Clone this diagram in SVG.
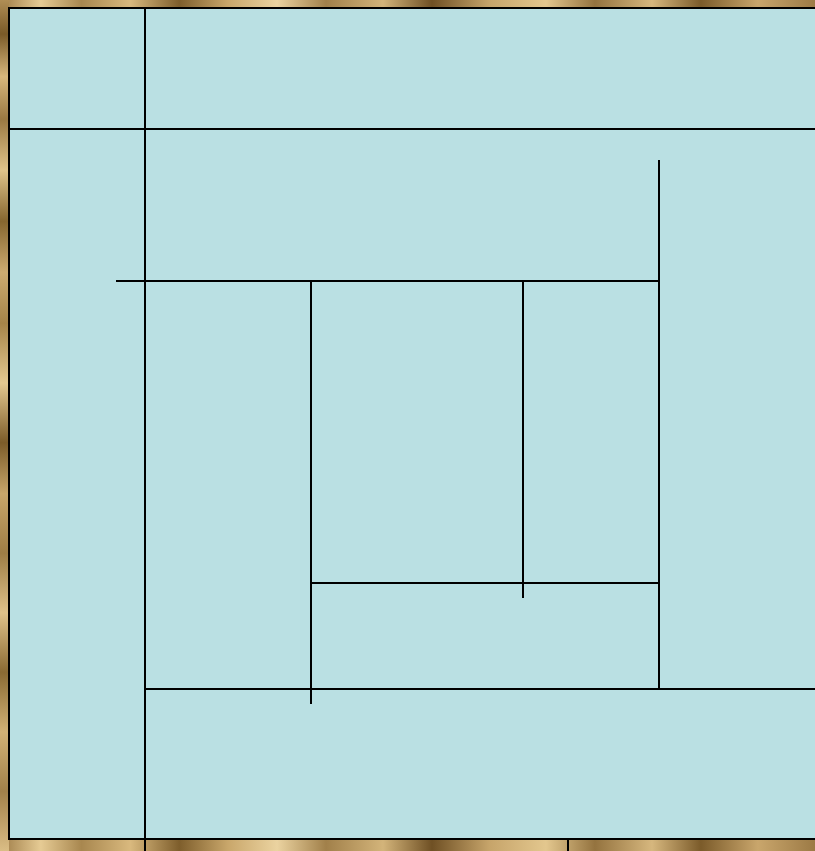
<svg xmlns="http://www.w3.org/2000/svg" width="815" height="851" viewBox="0 0 815 851">
  <defs>
    <linearGradient id="gH" x1="0" y1="0" x2="815" y2="0" gradientUnits="userSpaceOnUse" spreadMethod="repeat">
      <stop offset="0" stop-color="#9C7A45"/>
      <stop offset="0.05" stop-color="#E6CB94"/>
      <stop offset="0.1" stop-color="#A8874F"/>
      <stop offset="0.16" stop-color="#D9B97E"/>
      <stop offset="0.22" stop-color="#7E5E2C"/>
      <stop offset="0.28" stop-color="#C9A76B"/>
      <stop offset="0.34" stop-color="#EBD3A0"/>
      <stop offset="0.4" stop-color="#A1804A"/>
      <stop offset="0.47" stop-color="#D3B47A"/>
      <stop offset="0.53" stop-color="#6F5024"/>
      <stop offset="0.6" stop-color="#C6A46A"/>
      <stop offset="0.67" stop-color="#E3C78E"/>
      <stop offset="0.73" stop-color="#94733F"/>
      <stop offset="0.8" stop-color="#D6B77E"/>
      <stop offset="0.86" stop-color="#7B5B2A"/>
      <stop offset="0.93" stop-color="#C9A66C"/>
      <stop offset="1" stop-color="#9C7A45"/>
    </linearGradient>
    <linearGradient id="gV" x1="0" y1="0" x2="0" y2="851" gradientUnits="userSpaceOnUse">
      <stop offset="0" stop-color="#B08E55"/>
      <stop offset="0.04" stop-color="#7A5A28"/>
      <stop offset="0.09" stop-color="#D7B77C"/>
      <stop offset="0.14" stop-color="#9A7942"/>
      <stop offset="0.2" stop-color="#E0C38A"/>
      <stop offset="0.26" stop-color="#86662F"/>
      <stop offset="0.32" stop-color="#CDAB70"/>
      <stop offset="0.38" stop-color="#A58449"/>
      <stop offset="0.45" stop-color="#E4C990"/>
      <stop offset="0.52" stop-color="#7C5C29"/>
      <stop offset="0.58" stop-color="#C8A66A"/>
      <stop offset="0.65" stop-color="#9E7D45"/>
      <stop offset="0.72" stop-color="#DFC28A"/>
      <stop offset="0.79" stop-color="#8A6A33"/>
      <stop offset="0.86" stop-color="#D2B276"/>
      <stop offset="0.93" stop-color="#A2814A"/>
      <stop offset="1" stop-color="#DABD85"/>
    </linearGradient>
    <style>
      .ln { stroke: #000; stroke-width: 2; fill: none; }
    </style>
  </defs>
  <g id="background">
    <rect x="0" y="0" width="815" height="851" fill="url(#gH)"/>
    <rect x="0" y="0" width="9" height="851" fill="url(#gV)"/>
  </g>
  <g id="panel">
    <rect x="9" y="8" width="812" height="831" fill="#BAE0E3" stroke="#000" stroke-width="2"/>
  </g>
  <g id="connectors">
    <line class="ln" x1="145" y1="8" x2="145" y2="851"/>
    <line class="ln" x1="9" y1="129" x2="815" y2="129"/>
    <line class="ln" x1="659" y1="160" x2="659" y2="689"/>
    <line class="ln" x1="116" y1="281" x2="659" y2="281"/>
    <line class="ln" x1="311" y1="281" x2="311" y2="704"/>
    <line class="ln" x1="523" y1="281" x2="523" y2="598"/>
    <line class="ln" x1="311" y1="583" x2="659" y2="583"/>
    <line class="ln" x1="145" y1="689" x2="815" y2="689"/>
    <line class="ln" x1="568" y1="839" x2="568" y2="851"/>
  </g>
</svg>
